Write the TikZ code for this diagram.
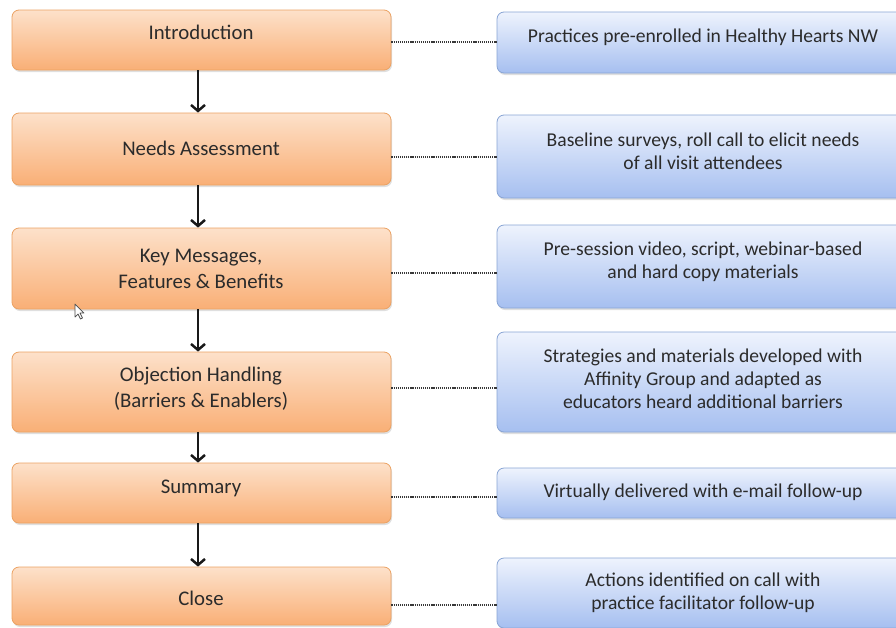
\documentclass[tikz,border=0pt]{standalone}
\usepackage{fontspec}
\setmainfont{Carlito}
\usetikzlibrary{arrows.meta,shadows}

\definecolor{txt}{HTML}{2B2B2B}
\definecolor{orTop}{HTML}{FDE1CA}
\definecolor{orBot}{HTML}{F9AF76}
\definecolor{orLine}{HTML}{EBA263}
\definecolor{blTop}{HTML}{EEF3FD}
\definecolor{blBot}{HTML}{A6BFF0}
\definecolor{blLine}{HTML}{88A4D4}

\tikzset{
  stage/.style={draw=orLine, line width=0.8pt, rounded corners=7pt,
    top color=orTop, bottom color=orBot, minimum width=379pt,
    drop shadow={shadow xshift=1pt, shadow yshift=-2pt, opacity=0.25}},
  detail/.style={draw=blLine, line width=0.8pt, rounded corners=7pt,
    top color=blTop, bottom color=blBot, minimum width=412pt,
    drop shadow={shadow xshift=1pt, shadow yshift=-2pt, opacity=0.25}},
  stagetext/.style={text=txt, align=center, inner sep=0pt,
    font=\fontsize{20.8}{25.5}\selectfont},
  detailtext/.style={text=txt, align=center, inner sep=0pt,
    font=\fontsize{19.6}{23}\selectfont},
  flow/.style={line width=2.7pt, black!90,
    -{Straight Barb[length=6pt,width=14pt,line width=2.5pt]}},
  link/.style={line width=1.7pt, black!78, dash pattern=on 1.2pt off 0.9pt}
}

\begin{document}
\begin{tikzpicture}[x=1pt,y=-1pt]
  \useasboundingbox (0,0) rectangle (896,627);
  \clip (0,0) rectangle (896,627);

  % process stages
  \node[stage, minimum height=60pt] (intro) at (201.5,40) {};
  \node[stage, minimum height=72pt] (needs) at (201.5,149) {};
  \node[stage, minimum height=81pt] (keys)  at (201.5,268.5) {};
  \node[stage, minimum height=80pt] (obj)   at (201.5,392) {};
  \node[stage, minimum height=60pt] (summ)  at (201.5,493) {};
  \node[stage, minimum height=58pt] (close) at (201.5,596) {};

  \node[stagetext] (introT) at (201,32)    {Introduction};
  \node[stagetext] (needsT) at (201,148)   {Needs Assessment};
  \node[stagetext] (keysT)  at (201,269)   {Key Messages,\\Features \& Benefits};
  \node[stagetext] (objT)   at (201,388.5) {Objection Handling\\(Barriers \& Enablers)};
  \node[stagetext] (summT)  at (201,488)   {Summary};
  \node[stagetext] (closeT) at (201,598)   {Close};

  % details of each stage
  \node[detail, minimum height=61pt]  (d1) at (703,42.5) {};
  \node[detail, minimum height=83pt]  (d2) at (703,156.5) {};
  \node[detail, minimum height=83pt]  (d3) at (703,266.5) {};
  \node[detail, minimum height=100pt] (d4) at (703,382) {};
  \node[detail, minimum height=50pt]  (d5) at (703,493) {};
  \node[detail, minimum height=70pt]  (d6) at (703,593) {};

  \node[detailtext] (d1T) at (703,37.5)  {Practices pre-enrolled in Healthy Hearts NW};
  \node[detailtext] (d2T) at (703,151.5) {Baseline surveys, roll call to elicit needs\\of all visit attendees};
  \node[detailtext] (d3T) at (703,261.5) {Pre-session video, script, webinar-based\\and hard copy materials};
  \node[detailtext] (d4T) at (703,378.5) {Strategies and materials developed with\\Affinity Group and adapted as\\educators heard additional barriers};
  \node[detailtext] (d5T) at (703,492)   {Virtually delivered with e-mail follow-up};
  \node[detailtext] (d6T) at (703,593)   {Actions identified on call with\\practice facilitator follow-up};

  % flow between stages
  \draw[flow] ([xshift=-3.5pt]intro.south) -- ([xshift=-3.5pt]needs.north);
  \draw[flow] ([xshift=-3.5pt]needs.south) -- ([xshift=-3.5pt]keys.north);
  \draw[flow] ([xshift=-3.5pt]keys.south)  -- ([xshift=-3.5pt]obj.north);
  \draw[flow] ([xshift=-3.5pt]obj.south)   -- ([xshift=-3.5pt]summ.north);
  \draw[flow] ([xshift=-3.5pt]summ.south)  -- ([xshift=-3.5pt]close.north);

  % dotted links from stages to details
  \coordinate (r1) at (0,42);
  \coordinate (r2) at (0,157);
  \coordinate (r3) at (0,273);
  \coordinate (r4) at (0,388);
  \coordinate (r5) at (0,497);
  \coordinate (r6) at (0,605);
  \draw[link] (intro.east |- r1) -- (d1.west |- r1);
  \draw[link] (needs.east |- r2) -- (d2.west |- r2);
  \draw[link] (keys.east |- r3)  -- (d3.west |- r3);
  \draw[link] (obj.east |- r4)   -- (d4.west |- r4);
  \draw[link] (summ.east |- r5)  -- (d5.west |- r5);
  \draw[link] (close.east |- r6) -- (d6.west |- r6);

  % mouse pointer
  \draw[fill=white, draw=black!70, line width=0.7pt, line join=round]
    (75,304) -- (75,317) -- (78,314) -- (80.5,319) -- (82.5,318) -- (80,313) -- (84,313) -- cycle;
\end{tikzpicture}
\end{document}
